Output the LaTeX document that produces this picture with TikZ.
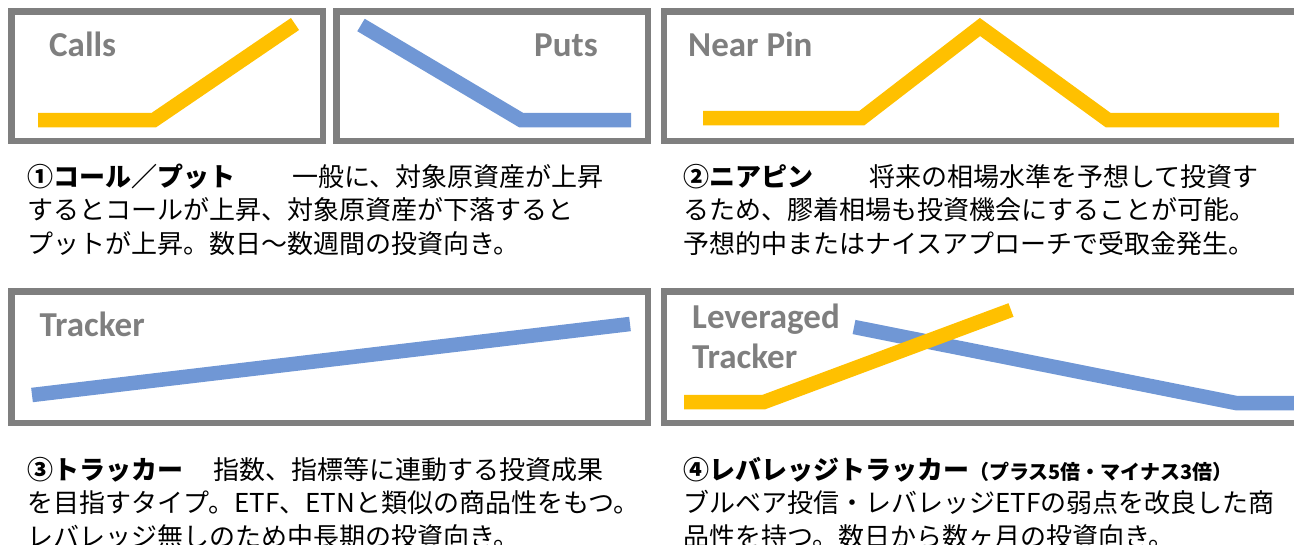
\documentclass[tikz,border=0pt]{standalone}
\usepackage{fontspec}
\newfontfamily\jpfont{Noto Sans CJK JP}
\newfontfamily\tagfont{Carlito}
\definecolor{framegray}{HTML}{7F7F7F}
\definecolor{callgold}{HTML}{FFC000}
\definecolor{putblue}{HTML}{7097D5}

\begin{document}
\begin{tikzpicture}[
	x = 1pt,
	y = -1pt,
	frame/.style = {
		draw = framegray,
		line width = 6.5pt
	},
	goldline/.style = {
		draw = callgold,
		line width = 14.5pt
	},
	blueline/.style = {
		draw = putblue,
		line width = 14.5pt
	},
	tag/.style = {
		text = framegray,
		font = \tagfont\bfseries\fontsize{35}{40}\selectfont,
		inner sep = 0pt,
		anchor = base west
	},
	memo/.style = {
		font = \jpfont\fontsize{26}{33.5}\selectfont,
		inner sep = 0pt,
		anchor = base west,
		align = left
	}
	]
	\useasboundingbox (0,0) rectangle (1294,544);
	\clip (0,0) rectangle (1294,544);

	\draw[frame] (11.25,11.25) rectangle (322.75,140.75);
	\draw[frame] (336.25,11.25) rectangle (647.75,140.75);
	\draw[frame] (663.75,11.25) rectangle (1310,140.75);
	\draw[frame] (11.25,291.25) rectangle (647.75,422.75);
	\draw[frame] (663.75,291.25) rectangle (1310,422.75);

	\draw[goldline] plot coordinates {(38,120) (154,120) (295,24)};
	\draw[blueline] plot coordinates {(361,25) (521,120) (631,120)};
	\draw[goldline] plot coordinates {(703,118) (862,118) (980,27) (1108,120) (1279,120)};
	\draw[blueline] plot coordinates {(32,395) (630,324)};
	\draw[blueline] plot coordinates {(854,327) (1236,403) (1310,403)};
	\draw[goldline] plot coordinates {(684,402) (764,402) (1011,310)};

	\node[tag] (calls) at (49,56) {Calls};
	\node[tag] (puts) at (534,56) {Puts};
	\node[tag] (nearpin) at (688,56) {Near Pin};
	\node[tag] (tracker) at (39.5,336) {Tracker};
	\node[tag, align = left] (levtracker) at (692,368) {Leveraged\\Tracker};

	% base anchor sits on the last line
	\node[memo] (callput) at (27,253) {{\bfseries ①コール／プット}\hspace{57pt}一般に、対象原資産が上昇\\するとコールが上昇、対象原資産が下落すると\\プットが上昇。数日～数週間の投資向き。};
	\node[memo] (nearpinmemo) at (683,253) {{\bfseries ②ニアピン}\hspace{56pt}将来の相場水準を予想して投資す\\るため、膠着相場も投資機会にすることが可能。\\予想的中またはナイスアプローチで受取金発生。};
	\node[memo] (trackermemo) at (27,546) {{\bfseries ③トラッカー}\hspace{30pt}指数、指標等に連動する投資成果\\を目指すタイプ。ETF、ETNと類似の商品性をもつ。\\レバレッジ無しのため中長期の投資向き。};
	\node[memo] (levmemo) at (683,546) {{\bfseries ④レバレッジトラッカー{\fontsize{20}{20}\selectfont （プラス5倍・マイナス3倍）}}\\ブルベア投信・レバレッジETFの弱点を改良した商\\品性を持つ。数日から数ヶ月の投資向き。};
\end{tikzpicture}
\end{document}
